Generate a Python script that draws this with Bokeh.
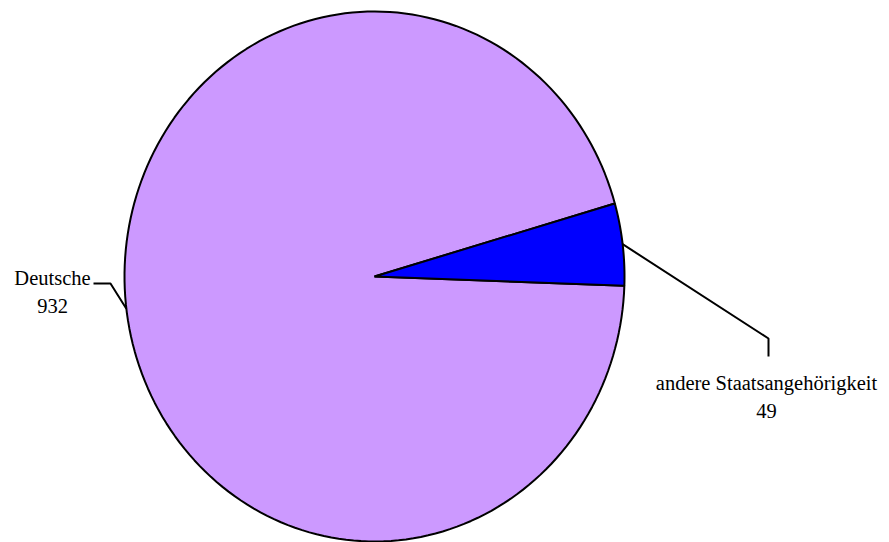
import numpy as np
from bokeh.plotting import figure
from bokeh.models import Range1d, ColumnDataSource
from bokeh.core.properties import value
from bokeh.embed import file_html
from bokeh.resources import INLINE

# ---- data ----
categories = ["Deutsche", "andere Staatsangehörigkeit"]
counts = [932, 49]
colors = ["#CC99FF", "#0000FF"]

# ---- layout (reference pixel coordinates, y downward) ----
W, H = 889, 542
cx, cy, rx, ry = 374.0, 276.0, 250.0, 265.0
start_deg = 16.0  # angle where first slice starts, going counter-clockwise

p = figure(width=W, height=H, output_backend="svg", toolbar_location=None,
           x_range=Range1d(0, W), y_range=Range1d(H, 0),
           min_border=0)
p.axis.visible = False
p.grid.visible = False
p.outline_line_color = None
p.background_fill_color = "white"

total = float(sum(counts))
xs, ys, mids = [], [], []
a0 = start_deg
for c in counts:
    sweep = 360.0 * c / total
    ang = np.radians(np.linspace(a0, a0 + sweep, 200))
    px = np.concatenate([[cx], cx + rx * np.cos(ang), [cx]])
    py = np.concatenate([[cy], cy - ry * np.sin(ang), [cy]])
    xs.append(px.tolist())
    ys.append(py.tolist())
    mids.append(np.radians(a0 + sweep / 2.0))
    a0 += sweep

p.patches(xs=xs, ys=ys, fill_color=colors, line_color="black", line_width=2)

# leader lines
elbows = [[(110, 283), (93, 283)], [(768, 338), (768, 356)]]
lx, ly = [], []
for m, e in zip(mids, elbows):
    sx = cx + rx * np.cos(m)
    sy = cy - ry * np.sin(m)
    lx.append([sx] + [pt[0] for pt in e])
    ly.append([sy] + [pt[1] for pt in e])
p.multi_line(xs=lx, ys=ly, line_color="black", line_width=2)

# labels
label_x = [52, 766]
name_y = [277, 382]
val_y = [305, 410]
src = ColumnDataSource(dict(
    x=label_x + label_x,
    y=name_y + val_y,
    t=categories + [str(v) for v in counts],
))
p.text(x="x", y="y", text="t", source=src, text_align="center",
       text_baseline="alphabetic",
       text_font=value("'Liberation Serif', 'DejaVu Serif', serif"),
       text_font_size="20.5px", text_color="black")

open("out.html", "w").write(file_html(p, INLINE))
